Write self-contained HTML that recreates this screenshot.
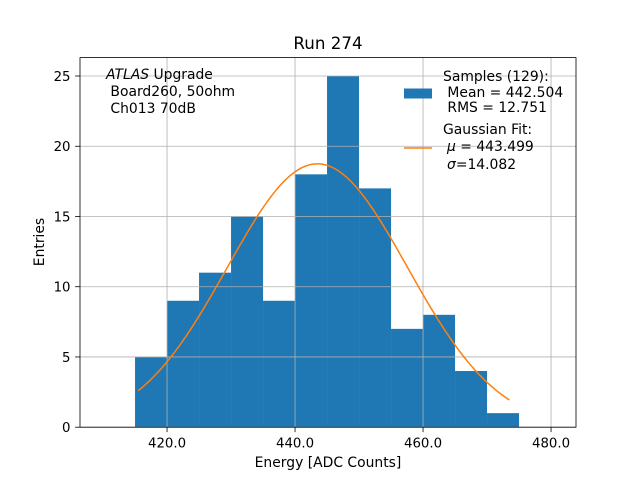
<!DOCTYPE html>
<html><head><meta charset="utf-8"><style>
body{margin:0;background:#fff;}
svg{display:block;font-family:"DejaVu Sans","Liberation Sans",sans-serif;}
text{white-space:pre;}
</style></head><body>
<svg id="chart" width="640" height="480" xmlns="http://www.w3.org/2000/svg"></svg>
<script>
var binStarts=[415,420,425,430,435,440,445,450,455,460,465,470];
var counts=[5,9,11,15,9,18,25,17,7,8,4,1];
var binWidth=5;
var xTicks=[420,440,460,480];
var yTicks=[0,5,10,15,20,25];
var fitMu=443.499, fitSigma=14.082, fitAmp=18.75, fitStart=415.5, fitEnd=473.5;
var NS="http://www.w3.org/2000/svg";
var svg=document.getElementById('chart');
var PL=80,PR=576,PT=57.6,PB=427.2;
var xmin=406.4,xmax=483.9,ymin=0,ymax=26.31;
function X(v){return PL+(v-xmin)/(xmax-xmin)*(PR-PL);}
function Y(v){return PB-(v-ymin)/(ymax-ymin)*(PB-PT);}
function el(t,a,txt,parent){var e=document.createElementNS(NS,t);for(var k in a)e.setAttribute(k,a[k]);if(txt!==undefined&&txt!==null)e.textContent=txt;(parent||svg).appendChild(e);return e;}
for(var i=0;i<binStarts.length;i++){
 var s=binStarts[i];
 var r=el('rect',{x:X(s),y:Y(counts[i]),width:X(s+binWidth)-X(s),height:Y(0)-Y(counts[i]),fill:'#1f77b4'});
 
 
}
xTicks.forEach(function(v){
 var g=el('line',{x1:X(v),x2:X(v),y1:PT,y2:PB,stroke:'#b0b0b0','stroke-width':0.8});
 
 
 el('line',{x1:X(v),x2:X(v),y1:PB,y2:PB+4.9,stroke:'#000','stroke-width':0.8});
 var t=el('text',{x:X(v),y:PB+20.5,'font-size':13.3,'text-anchor':'middle'},v.toFixed(1));
 
 
});
yTicks.forEach(function(v){
 var g=el('line',{x1:PL,x2:PR,y1:Y(v),y2:Y(v),stroke:'#b0b0b0','stroke-width':0.8});
 
 
 el('line',{x1:PL-4.9,x2:PL,y1:Y(v),y2:Y(v),stroke:'#000','stroke-width':0.8});
 var t=el('text',{x:PL-9.5,y:Y(v)+4.8,'font-size':13.3,'text-anchor':'end'},String(v));
 
 
});
var d='';
for(var j=0;j<=100;j++){var xv=fitStart+(fitEnd-fitStart)*j/100;var yv=fitAmp*Math.exp(-Math.pow(xv-fitMu,2)/(2*fitSigma*fitSigma));d+=(j?'L':'M')+X(xv).toFixed(2)+','+Y(yv).toFixed(2);}
var fl=el('path',{d:d,fill:'none',stroke:'#ff7f0e','stroke-width':1.5});


var fr=el('rect',{x:PL,y:PT,width:PR-PL,height:PB-PT,fill:'none',stroke:'#000','stroke-width':0.8});


var ti=el('text',{x:328,y:49,'font-size':16.7,'text-anchor':'middle'},'Run 274');


var xl=el('text',{x:328,y:467,'font-size':13.9,'text-anchor':'middle'},'Energy [ADC Counts]');


var yl=el('text',{x:44,y:242,'font-size':13.9,'text-anchor':'middle',transform:'rotate(-90 44 242)'},'Entries');


function mixed(x,y,ital,rest,name){
 var t=el('text',{x:x,y:y,'font-size':13.9});
 el('tspan',{'font-style':'italic'},ital,t);
 el('tspan',{},rest,t);
 
 
 return t;
}
mixed(106,79,'ATLAS',' Upgrade','atlas-label');
var a2=el('text',{x:106,y:96,'font-size':13.9},' Board260, 50ohm');


var a3=el('text',{x:106,y:113,'font-size':13.9},' Ch013 70dB');


var lp=el('rect',{x:404,y:88.5,width:28,height:10,fill:'#1f77b4'});


var legTexts=[['Samples (129):',443,81],[' Mean = 442.504',443,97],[' RMS = 12.751',443,112]];
legTexts.forEach(function(a){var t=el('text',{x:a[1],y:a[2],'font-size':13.9},a[0]);
 
 });
var ll=el('line',{x1:404,x2:432,y1:148,y2:148,stroke:'#ff7f0e','stroke-width':1.5});


var f1=el('text',{x:443,y:134,'font-size':13.9},'Gaussian Fit:');


mixed(447,151,'μ',' = 443.499','legend-fit-mu');
mixed(447,169,'σ','=14.082','legend-fit-sigma');
</script>
</body></html>
